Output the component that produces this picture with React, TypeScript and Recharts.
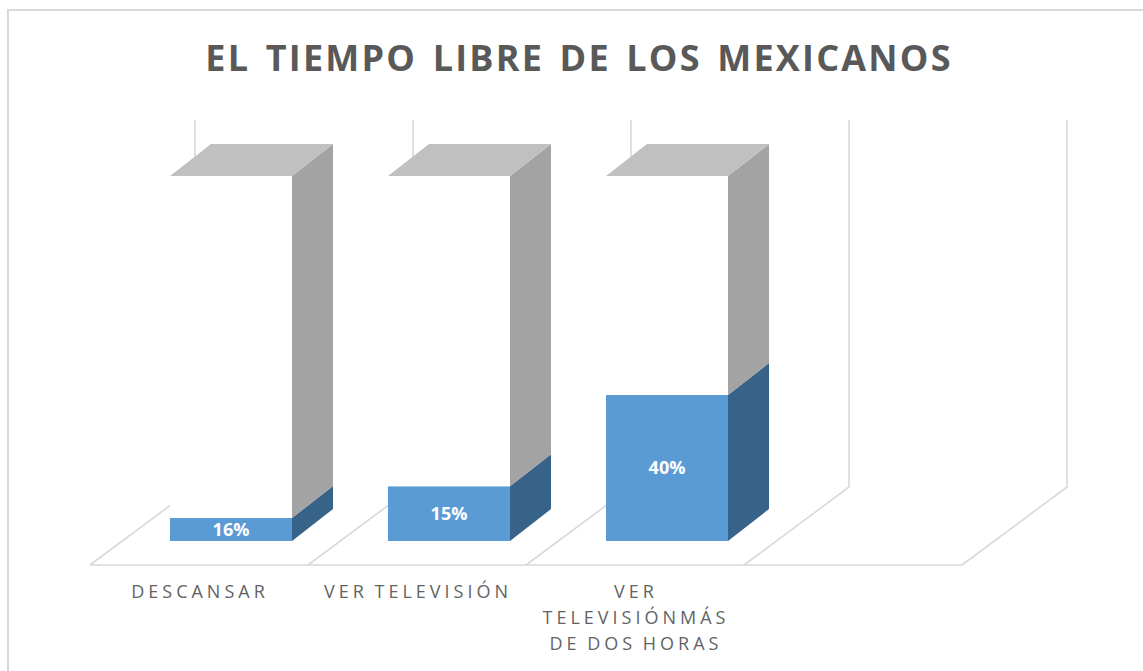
import { BarChart, Bar, XAxis, YAxis, LabelList } from 'recharts'

const categories = ['DESCANSAR', 'VER TELEVISIÓN', 'VER TELEVISIÓNMÁS DE DOS HORAS', '']
const tickLines = [['DESCANSAR'], ['VER TELEVISIÓN'], ['VER', 'TELEVISIÓNMÁS', 'DE DOS HORAS'], []]
// the first bar is drawn much shorter than its printed 16%
const blueValues = [6.3, 15, 40, null]
const grayValues = [93.7, 85, 60, null]
const valueLabels = ['16%', '15%', '40%', '']

const data = categories.map((name, i) => ({
  name,
  blue: blueValues[i],
  gray: grayValues[i],
  label: valueLabels[i],
}))

const FONT = '"Open Sans", sans-serif'
const WIDTH = 1143
const HEIGHT = 671
const MARGIN = { top: 176, right: 149, bottom: 100, left: 122 }
const DEPTH_X = 41
const DEPTH_Y = 32
const BAND = 218
const LINE = '#d9d9d9'

const Box = ({ x, y, width, height, fill, front, side, top }: any) => {
  if (!height) return null
  const r = x + width
  const b = y + height
  return (
    <g>
      <rect x={x} y={y} width={width} height={height} fill={front ?? fill} />
      <polygon
        points={`${r},${y} ${r + DEPTH_X},${y - DEPTH_Y} ${r + DEPTH_X},${b - DEPTH_Y} ${r},${b}`}
        fill={side}
      />
      {top && (
        <polygon
          points={`${x},${y} ${x + DEPTH_X},${y - DEPTH_Y} ${r + DEPTH_X},${y - DEPTH_Y} ${r},${y}`}
          fill={top}
        />
      )}
    </g>
  )
}

const CategoryTick = ({ x, index }: any) => {
  const lines = tickLines[index] ?? []
  return (
    <g>
      {lines.map((line, i) => (
        <text
          key={line}
          x={x - 31}
          y={598 + i * 26}
          textAnchor="middle"
          fontFamily={FONT}
          fontSize={18}
          letterSpacing={4}
          wordSpacing={-2}
          fill="#636363"
        >
          {line}
        </text>
      ))}
    </g>
  )
}

// floor and side walls behind the bars
const Walls = () => {
  const frontY = 565
  const backY = 487
  const wallTop = 120
  const frontStart = 90
  const backStart = 195
  const steps = [0, 1, 2, 3, 4]
  return (
    <g stroke={LINE} strokeWidth={1.6} fill="none">
      <line x1={frontStart} y1={frontY} x2={frontStart + 4 * BAND} y2={frontY} />
      {steps.map((s) => (
        <polyline
          key={s}
          points={`${frontStart + s * BAND},${frontY} ${backStart + s * BAND},${backY} ${backStart + s * BAND},${wallTop}`}
        />
      ))}
    </g>
  )
}

export default function App() {
  return (
    <div style={{ position: 'absolute', left: 0, top: 0, width: WIDTH, height: HEIGHT, background: '#fff', overflow: 'hidden' }}>
      <div style={{ position: 'absolute', left: 7, top: 9, width: WIDTH, height: HEIGHT, border: `2px solid ${LINE}` }} />
      <div
        style={{
          position: 'absolute',
          left: 0,
          top: 33,
          width: 1158,
          textAlign: 'center',
          fontFamily: FONT,
          fontWeight: 700,
          fontSize: 36,
          lineHeight: '50px',
          letterSpacing: 2.2,
          wordSpacing: 4,
          color: '#595959',
          whiteSpace: 'nowrap',
        }}
      >
        EL TIEMPO LIBRE DE LOS MEXICANOS
      </div>
      <BarChart
        width={WIDTH}
        height={HEIGHT}
        data={data}
        margin={MARGIN}
        barSize={122}
        style={{ position: 'absolute', left: 0, top: 0 }}
      >
        <Walls />
        <XAxis dataKey="name" axisLine={false} tickLine={false} interval={0} tick={<CategoryTick />} />
        <YAxis hide domain={[0, 100]} />
        <Bar
          dataKey="blue"
          stackId="a"
          fill="#5b9bd5"
          isAnimationActive={false}
          shape={(p: any) => <Box {...p} front="#5b9bd5" side="#376389" />}
        >
          <LabelList dataKey="label" position="center" fill="#fff" fontFamily={FONT} fontWeight={700} fontSize={18} />
        </Bar>
        <Bar
          dataKey="gray"
          stackId="a"
          fill="#a5a5a5"
          isAnimationActive={false}
          shape={(p: any) => <Box {...p} front="#fff" side="#a3a3a3" top="#c0c0c0" />}
        />
      </BarChart>
    </div>
  )
}
